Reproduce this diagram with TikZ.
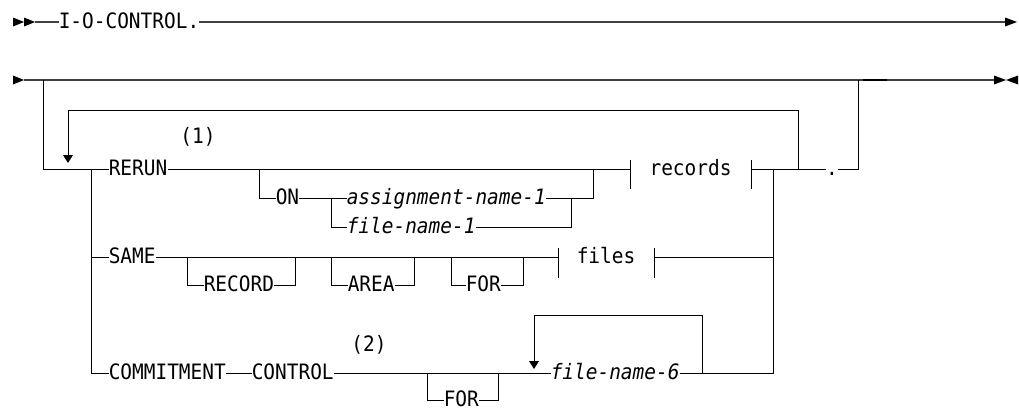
\documentclass[tikz,border=0pt]{standalone}
\usepackage{fontspec}
\newfontfamily\dmono{DejaVu Sans Mono}[FakeStretch=0.917]
\tikzset{
  lbl/.style={inner sep=0pt, text height=13.75pt, text depth=4pt, anchor=west,
    font={\dmono\fontsize{15.9}{19}\selectfont}},
  var/.style={lbl, font={\dmono\itshape\fontsize{15.9}{19}\selectfont}},
  note/.style={lbl, anchor=center},
  flat/.style={text height=9.75pt, text depth=0pt},
  rail/.style={line width=0.75pt, black},
  mainrail/.style={line width=1.2pt, black!75},
  tip/.style={fill=black},
}
\begin{document}
\begin{tikzpicture}[x=0.75pt,y=-0.75pt]
\useasboundingbox (0,0) rectangle (1019,411);

% ---------- row 1 ----------
\coordinate (r1a) at (35,22);
\coordinate (r1b) at (1005,22);
\fill[tip] (13,17.5) -- (24,22) -- (13,26.5) -- cycle;
\fill[tip] (24,17.5) -- (35,22) -- (24,26.5) -- cycle;
\node[lbl] (ioc) at (58.5,22) {I-O-CONTROL.};
\draw[mainrail] (r1a) -- (ioc.west);
\draw[mainrail] (ioc.east) -- (r1b);
\fill[tip] (1005,17.5) -- (1017,22) -- (1005,26.5) -- cycle;

% ---------- row 2 ----------
\coordinate (r2a) at (24,80);
\coordinate (r2b) at (994,80);
\fill[tip] (13,75.5) -- (24,80) -- (13,84.5) -- cycle;
\draw[mainrail] (r2a) -- (r2b);
\draw[line width=1.6pt, black] (863,80) -- (887,80);
\fill[tip] (994,75.5) -- (1006,80) -- (994,84.5) -- cycle;
\fill[tip] (1018,75.5) -- (1006,80) -- (1018,84.5) -- cycle;

% ---------- texts ----------
\node[lbl] (rerun) at (108.5,169) {RERUN};
\node[note] (n1) at (198,137) {(1)};
\node[lbl] (on) at (275.5,198) {ON};
\node[var] (asg) at (346.5,198) {assignment-name-1};
\node[var] (fn1) at (346.5,227) {file-name-1};
\node[lbl, anchor=center] (rec) at (690.5,169) {records};
\node[lbl, anchor=center] (dot) at (832,169) {.};
\node[lbl] (same) at (108.5,257) {SAME};
\node[lbl] (record) at (203.5,285) {RECORD};
\node[lbl] (area) at (347.5,285) {AREA};
\node[lbl] (for1) at (465.5,285) {FOR};
\node[lbl, anchor=center] (files) at (606,257) {files};
\node[lbl] (commit) at (108.5,373) {COMMITMENT};
\node[lbl] (control) at (251.5,373) {CONTROL};
\node[note] (n2) at (369,345) {(2)};
\node[lbl, flat] (for2) at (443.5,400) {FOR};
\node[var] (fn6) at (550.5,373) {file-name-6};

% ---------- junction coordinates ----------
\coordinate (lA) at (43,80);
\coordinate (lB) at (43,169);
\coordinate (sT) at (91,169);
\coordinate (sB) at (91,373);
\coordinate (sM) at (91,257);
\coordinate (loopR) at (798,169);
\coordinate (loopRT) at (798,110);
\coordinate (loopLT) at (68,110);
\coordinate (loopLB) at (68,155);
\coordinate (recL) at (630,169);
\coordinate (recR) at (751,169);
\coordinate (endR) at (858,169);
\coordinate (endT) at (858,80);
\coordinate (stR) at (773,169);
\coordinate (stRB) at (773,373);
\coordinate (stRM) at (773,257);

% left entry and stack
\draw[rail] (lA) -- (lB) -- (rerun.west);
\draw[rail] (sT) -- (sB) -- (commit.west);
\draw[rail] (sM) -- (same.west);
% repeat loop over whole group
\draw[rail] (loopR) -- (loopRT) -- (loopLT) -- (loopLB);
\fill[tip] (63,155) -- (73,155) -- (68,163) -- cycle;

% RERUN row
\draw[rail] (rerun.east) -- (recL);
\draw[rail] (recL |- 0,160) -- (recL |- 0,189);
\draw[rail] (recR |- 0,160) -- (recR |- 0,189);
\draw[rail] (recR) -- (dot.west);
\draw[rail] (dot.east) -- (endR) -- (endT);
% ON branch
\draw[rail] (259,169) -- (259,198) -- (on.west);
\draw[rail] (on.east) -- (asg.west);
\draw[rail] (331,198) -- (331,227) -- (fn1.west);
\draw[rail] (asg.east) -- (593,198) -- (593,169);
\draw[rail] (fn1.east) -- (571,227) -- (571,198);

% right collector
\draw[rail] (stR) -- (stRB) -- (fn6.east);

% SAME row
\draw[rail] (same.east) -- (558,257);
\draw[rail] (558,248) -- (558,278);
\draw[rail] (654,248) -- (654,278);
\draw[rail] (654,257) -- (stRM);
\draw[rail] (187,257) -- (187,285) -- (record.west);
\draw[rail] (record.east) -- (295,285) -- (295,257);
\draw[rail] (331,257) -- (331,285) -- (area.west);
\draw[rail] (area.east) -- (414,285) -- (414,257);
\draw[rail] (451,257) -- (451,285) -- (for1.west);
\draw[rail] (for1.east) -- (523,285) -- (523,257);

% COMMITMENT row
\draw[rail] (commit.east) -- (control.west);
\draw[rail] (control.east) -- (fn6.west);
\draw[rail] (427,373) -- (427,400) -- (for2.west);
\draw[rail] (for2.east) -- (498,400) -- (498,373);
\draw[rail] (702,373) -- (702,315) -- (534,315) -- (534,361);
\fill[tip] (529,361) -- (539,361) -- (534,369) -- cycle;
\end{tikzpicture}
\end{document}
